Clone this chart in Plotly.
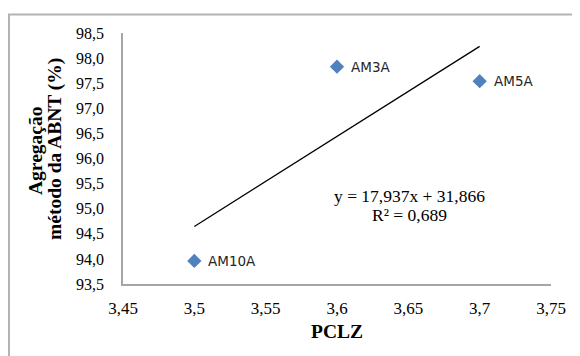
import plotly.graph_objects as go

# Data
samples = ["AM10A", "AM3A", "AM5A"]
pclz = [3.50, 3.60, 3.70]
agregacao = [93.96, 97.83, 97.54]

# Linear trendline (as given on chart)
trend_slope = 17.937
trend_intercept = 31.866
trend_x = [3.50, 3.70]
trend_y = [trend_slope * x + trend_intercept for x in trend_x]
equation_line = "y = 17,937x + 31,866"
r2_line = "R² = 0,689"

x_tickvals = [3.45, 3.50, 3.55, 3.60, 3.65, 3.70, 3.75]
x_ticktext = ["3,45", "3,5", "3,55", "3,6", "3,65", "3,7", "3,75"]
y_tickvals = [93.5, 94.0, 94.5, 95.0, 95.5, 96.0, 96.5, 97.0, 97.5, 98.0, 98.5]
y_ticktext = ["93,5", "94,0", "94,5", "95,0", "95,5", "96,0", "96,5", "97,0", "97,5", "98,0", "98,5"]

serif = "Liberation Serif, Times New Roman, serif"
sans = "DejaVu Sans, Arial, sans-serif"

fig = go.Figure()

fig.add_trace(go.Scatter(
    x=trend_x, y=trend_y, mode="lines",
    line=dict(color="black", width=1.3),
    showlegend=False, hoverinfo="skip",
))

fig.add_trace(go.Scatter(
    x=pclz, y=agregacao, mode="markers",
    marker=dict(symbol="diamond", size=11, color="#4f81bd"),
    showlegend=False,
))

annotations = []
for s, xv, yv in zip(samples, pclz, agregacao):
    annotations.append(dict(
        x=xv, y=yv, xref="x", yref="y", text=s, showarrow=False,
        xanchor="left", yanchor="middle", xshift=12,
        font=dict(family=sans, size=13.5, color="#262626"),
    ))

annotations.append(dict(
    x=3.6507, y=95.253, xref="x", yref="y", text=equation_line,
    showarrow=False, xanchor="center", yanchor="middle",
    font=dict(family=serif, size=17.5, color="black"),
))
annotations.append(dict(
    x=3.6507, y=94.874, xref="x", yref="y", text=r2_line,
    showarrow=False, xanchor="center", yanchor="middle",
    font=dict(family=serif, size=17.5, color="black"),
))

# Axis titles
annotations.append(dict(
    x=0.5, y=-0.19, xref="paper", yref="paper", text="<b>PCLZ</b>",
    showarrow=False, xanchor="center", yanchor="middle",
    font=dict(family=serif, size=19.5, color="black"),
))
annotations.append(dict(
    x=-0.2033, y=0.53, xref="paper", yref="paper", text="<b>Agregação</b>",
    showarrow=False, xanchor="center", yanchor="middle", textangle=-90,
    font=dict(family=serif, size=19.5, color="black"),
))
annotations.append(dict(
    x=-0.1589, y=0.538, xref="paper", yref="paper", text="<b>método da ABNT (%)</b>",
    showarrow=False, xanchor="center", yanchor="middle", textangle=-90,
    font=dict(family=serif, size=19.5, color="black"),
))

# The page body has an 8px default margin, so the figure is 8px smaller
fig.update_layout(
    width=572, height=348,
    margin=dict(l=115, r=29, t=25, b=72),
    paper_bgcolor="white", plot_bgcolor="white",
    showlegend=False,
    annotations=annotations,
    shapes=[dict(
        type="rect", xref="paper", yref="paper",
        x0=-0.2664, x1=1.2, y0=-0.5, y1=1.0737,
        line=dict(color="#b3b3b3", width=2), fillcolor="rgba(0,0,0,0)",
        layer="below",
    )],
)

fig.update_xaxes(
    range=[3.45, 3.75], tickvals=x_tickvals, ticktext=x_ticktext,
    showgrid=False, zeroline=False, showline=True,
    linecolor="#a6a6a6", linewidth=1.5, ticks="",
    ticklabelstandoff=8,
    tickfont=dict(family=serif, size=17, color="black"),
)
fig.update_yaxes(
    range=[93.5, 98.5], tickvals=y_tickvals, ticktext=y_ticktext,
    showgrid=False, zeroline=False, showline=True,
    linecolor="#a6a6a6", linewidth=1.5, ticks="",
    ticklabelstandoff=14,
    tickfont=dict(family=serif, size=16, color="black"),
)

fig.write_html("out.html")
